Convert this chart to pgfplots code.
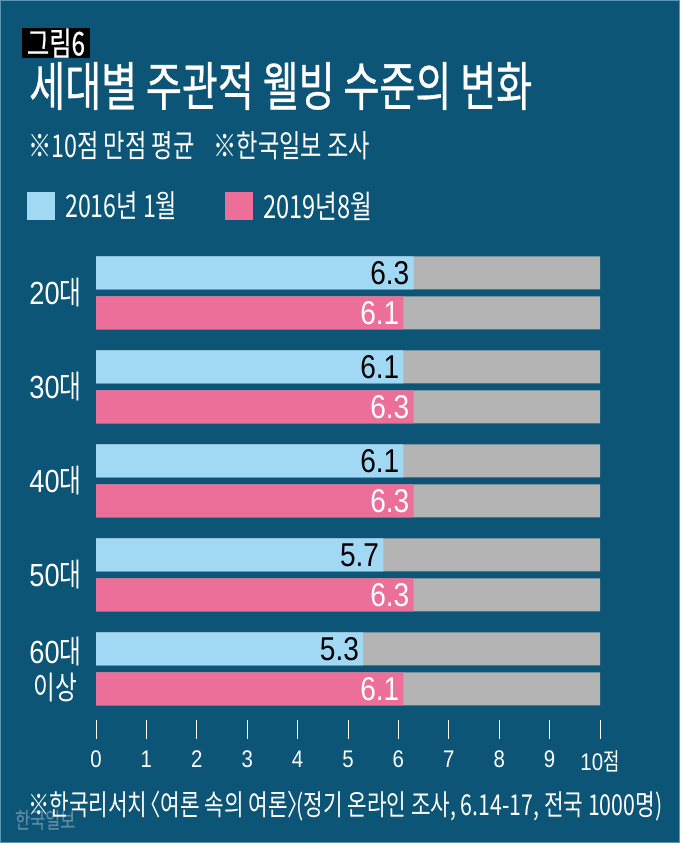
\documentclass[border=0pt]{standalone}
\usepackage{pgfplots}
\pgfplotsset{compat=1.18}
\usepackage{pgfplotstable}
\usepackage{fontspec}
\usepackage{graphicx}
\setmainfont{Liberation Sans}
\newfontfamily\kr[FakeStretch=0.74]{Noto Sans CJK KR}
\newfontfamily\krb[FakeStretch=0.74,FakeBold=0.6]{Noto Sans CJK KR}
\newfontfamily\nm[FakeStretch=0.85]{Liberation Sans}
\definecolor{bg}{HTML}{0C5576}
\definecolor{bblue}{HTML}{A1D9F5}
\definecolor{bpink}{HTML}{EB6F98}
\definecolor{bgray}{HTML}{B4B4B4}
\definecolor{wm}{HTML}{5F8AA3}
\newcommand\ylab[1]{{\nm\fontsize{32}{32}\selectfont #1{\kr 대}}}

\pgfplotstableread{
y val
447 6.3
353 6.1
259 6.1
165 5.7
71 5.3
}\tblue
\pgfplotstableread{
y val
407 6.1
313 6.3
219 6.3
125 6.3
31 6.1
}\tpink
\pgfplotstableread{
y val
447 10
407 10
353 10
313 10
259 10
219 10
165 10
125 10
71 10
31 10
}\tgray

\begin{document}
\begin{tikzpicture}
\fill[bg] (0pt,0pt) rectangle (680pt,843pt);
\draw[color=bblue!50!bg, line width=1pt] (0.5pt,0.5pt) rectangle (679.5pt,842.5pt);
% tag
\fill[black] (22pt,815pt) rectangle (90pt,785pt);
\node[text=white, inner sep=0pt] at (56pt,800pt) {\resizebox{58pt}{!}{\krb\fontsize{20}{20}\selectfont 그림6}};
% title
\node[anchor=west, text=white, inner sep=0pt] at (29pt,757pt) {\resizebox{503pt}{!}{\krb\fontsize{44}{44}\selectfont 세대별 주관적 웰빙 수준의 변화}};
% subtitle
\node[anchor=west, text=white, inner sep=0pt] at (28pt,697pt) {\resizebox{342pt}{!}{\kr\fontsize{23}{23}\selectfont ※10점 만점 평균\hspace{0.6em}※한국일보 조사}};
% legend
\fill[bblue] (27pt,623pt) rectangle (55pt,651pt);
\node[anchor=west, text=white, inner sep=0pt] at (65pt,637pt) {\resizebox{112pt}{!}{\kr\fontsize{23}{23}\selectfont 2016년 1월}};
\fill[bpink] (225pt,623pt) rectangle (253pt,651pt);
\node[anchor=west, text=white, inner sep=0pt] at (263pt,637pt) {\resizebox{109pt}{!}{\kr\fontsize{23}{23}\selectfont 2019년8월}};
% watermark
\node[anchor=west, text=wm, inner sep=0pt] at (15pt,23pt) {\resizebox{60pt}{!}{\krb\fontsize{20}{20}\selectfont 한국일보}};
% footnote
\node[anchor=west, text=white, inner sep=0pt] at (28pt,37pt) {\resizebox{634pt}{!}{\kr\fontsize{22}{22}\selectfont ※한국리서치 \kern-0.45em〈여론 속의 여론〉\kern-0.45em(정기 온라인 조사, 6.14-17, 전국 1000명)}};

\begin{axis}[
  at={(96pt,123pt)}, anchor=south west,
  scale only axis, width=504pt, height=470pt,
  xmin=0, xmax=10, ymin=0, ymax=470,
  axis line style={draw=none},
  clip=false,
  tick pos=left,
  tick align=outside,
  major tick length=19pt,
  x tick style={white, line width=0.8pt},
  y tick style={draw=none},
  xtick={0,1,...,10},
  xticklabels={0,1,2,3,4,5,6,7,8,9,{10{\kr 점}}},
  xticklabel style={text=white, font=\nm\fontsize{24}{24}\selectfont, yshift=-8pt},
  ytick={427,333,239,145,47},
  yticklabels={{\ylab{20}},{\ylab{30}},{\ylab{40}},{\ylab{50}},{{\fontsize{32}{31}\selectfont\begin{tabular}{@{}c@{}}\ylab{60}\\{\kr\fontsize{32}{31}\selectfont 이상}\end{tabular}}}},
  yticklabel style={text=white, xshift=8pt},
  /pgf/number format/assume math mode=true,
]
\addplot[xbar, bar width=33, bar shift=0pt, fill=bgray, draw=none] table[x=val,y=y] {\tgray};
\addplot[xbar, bar width=33, bar shift=0pt, fill=bblue, draw=none,
  point meta=x,
  nodes near coords={\pgfmathprintnumber[fixed,fixed zerofill,precision=1,assume math mode=true]{\pgfplotspointmeta}},
  nodes near coords style={anchor=east, text=black, font=\nm\fontsize{33}{33}\selectfont, inner sep=2pt, xshift=-2pt}]
  table[x=val,y=y] {\tblue};
\addplot[xbar, bar width=33, bar shift=0pt, fill=bpink, draw=none,
  point meta=x,
  nodes near coords={\pgfmathprintnumber[fixed,fixed zerofill,precision=1,assume math mode=true]{\pgfplotspointmeta}},
  nodes near coords style={anchor=east, text=white, font=\nm\fontsize{33}{33}\selectfont, inner sep=2pt, xshift=-2pt}]
  table[x=val,y=y] {\tpink};
\end{axis}
\end{tikzpicture}
\end{document}
